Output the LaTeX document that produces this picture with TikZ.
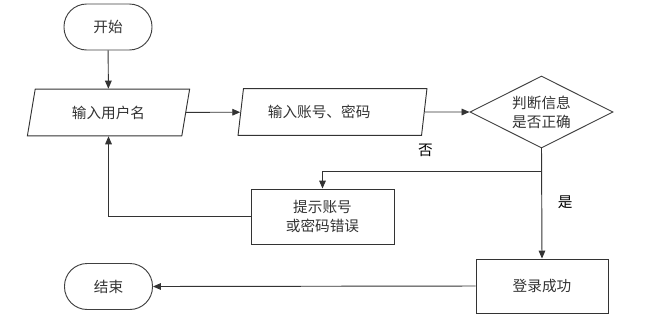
\documentclass[tikz,border=0pt]{standalone}
\usepackage{fontspec}
\setmainfont{Noto Sans CJK SC}
\usepackage{tikz}
\usetikzlibrary{shapes.geometric, arrows.meta, positioning}

\begin{document}
\begin{tikzpicture}[
    x=0.03cm, y=-0.03cm,
    font=\fontsize{12.5}{16}\selectfont,
    every node/.style={text=black!80},
    terminal/.style={rectangle, rounded corners=0.68cm, draw=black!75, line width=0.8pt, minimum width=2.64cm, minimum height=1.38cm},
    io/.style={trapezium, trapezium left angle=74, trapezium right angle=106, trapezium stretches=true, draw=black!80, line width=0.8pt, minimum height=1.4cm, inner sep=0pt},
    decision/.style={diamond, aspect=2, draw=black!75, line width=0.8pt, minimum width=4.29cm, minimum height=2.16cm, inner sep=0pt, align=center},
    process/.style={rectangle, draw=black!80, line width=0.8pt, align=center},
    flow/.style={-{Triangle[length=2.4mm, width=2mm]}, draw=black!80, line width=0.8pt}
]
\useasboundingbox (0,0) rectangle (650,323);

% Terminals
\node[terminal] (start) at (108, 27) {开始};
\node[terminal] (stop) at (108.5, 286.5) {结束};

% Input steps
\node[io, minimum width=4.89cm] (username) at (108.5, 112.5) {输入用户名};
\node[io, minimum width=5.67cm] (account) at (332.5, 112) {输入账号、密码\kern0.8cm};

% Decision
\node[decision] (check) at (541.5, 112) {判断信息\\是否正确};

% Process boxes
\node[process, minimum width=4.29cm, minimum height=1.65cm] (error) at (322.5, 216.5) {提示账号\\或密码错误};
\node[process, minimum width=3.96cm, minimum height=1.62cm] (success) at (542, 286) {登录成功};

% Main line
\draw[flow] (start) -- (username);
\draw[flow] (username) -- (account);
\draw[flow] (account) -- (check);

% Branches
\draw[flow] (check.south) -- ++(0, 23) -| (error.north) node[pos=0.265, above=9pt, text=black] {否};
\draw[flow] (check.south) -- (success.north) node[pos=0.49, right=10pt, text=black] {是};

% Back to the start of input, and the end
\draw[flow] (error.west) -| (username.south);
\draw[flow] (success.west) -- (stop.east);
\end{tikzpicture}
\end{document}
